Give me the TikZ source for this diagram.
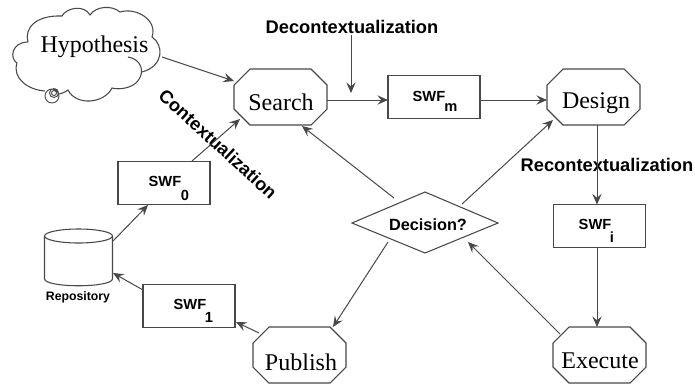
\documentclass[tikz,border=0pt]{standalone}
\usepackage{fontspec}
\setmainfont{Liberation Serif}
\newfontfamily\lsans{Liberation Sans}
\usetikzlibrary{arrows.meta,shapes.geometric}
\definecolor{ln}{HTML}{484848}
\tikzset{x=0.75pt,y=-0.75pt,
 arr/.style={draw=ln,-{Stealth[length=8pt,width=7pt,inset=3pt]},line width=0.75pt},
 big/.style={font=\fontsize{18}{20}\selectfont,text=black,inner sep=0pt},
 lab/.style={font=\lsans\bfseries\fontsize{13.7}{15}\selectfont,text=black,inner sep=0pt},
 swf/.style={draw=ln,line width=0.8pt,minimum width=69pt,minimum height=32.25pt,inner sep=0pt},
 sw/.style={font=\lsans\bfseries\fontsize{11}{12}\selectfont,text=black,inner sep=0pt},
 sub/.style={font=\lsans\bfseries\fontsize{11}{12}\selectfont,text=black,inner sep=0pt},
 shp/.style={draw=ln,line width=0.8pt}}
\newcommand{\octa}[5]{% name x1 y1 x2 y2
 \coordinate (#1) at ({(#2+#4)/2},{(#3+#5)/2});
 \path[shp,fill=white] (#2+16,#3)--(#4-16,#3)--(#4,#3+16)--(#4,#5-16)--(#4-16,#5)--(#2+16,#5)--(#2,#5-16)--(#2,#3+16)--cycle;}
\begin{document}
\begin{tikzpicture}
\useasboundingbox (0,0) rectangle (695,383);
% cloud
\path[shp] (28,42)
 .. controls (24,28) and (36,15) .. (62,16)
 .. controls (66,8) and (84,4) .. (90,15)
 .. controls (96,6) and (112,5) .. (120,12)
 .. controls (136,7) and (158,20) .. (152,37)
 .. controls (164,45) and (164,66) .. (142,72);
\path[shp] (128,57)
 .. controls (141,59) and (146,72) .. (137,82)
 .. controls (131,88) and (120,90) .. (112,88)
 .. controls (104,104) and (76,106) .. (68,90)
 .. controls (64,93) and (60,94) .. (58,94);
\path[shp] (45,91)
 .. controls (28,90) and (12,78) .. (17,63)
 .. controls (9,58) and (12,42) .. (28,42);
\node[big] (hyp) at (94.5,47) {Hypothesis};
\path[shp,line width=0.7pt] (52,96) circle (7) (54,93) circle (4.5) (54,93) circle (2.5);
\coordinate (hypout) at (162,57);
\octa{search}{234}{69}{327}{125}
\octa{design}{547}{69}{640}{125}
\octa{publish}{253}{327}{346}{383}
\octa{execute}{553}{327}{646}{383}
\node[big] (tsearch) at (281,102) {Search};
\node[big] (tdesign) at (596,103) {Design};
\node[big] (tpublish) at (301,362) {Publish};
\node[big] (texecute) at (600,361) {Execute};
\node[swf] (s0) at (164,183) {};
\node[swf] (sm) at (434,97) {};
\node[swf] (si) at (599.5,226) {};
\node[swf] (s1) at (189,306) {};
\node[sw] (s0a) at (165,181) {SWF};
\node[sub] (s0b) at (185,195) {0};
\node[sw] (sma) at (429,96) {SWF};
\node[sub] (smb) at (451,108) {m};
\node[sw] (sia) at (595,224) {SWF};
\node[sub] (sib) at (612,237) {i};
\node[sw] (s1a) at (190,304) {SWF};
\node[sub] (s1b) at (209,317) {1};
\path[shp] (425,192)--(498,223)--(425,253)--(352,223)--cycle;
\coordinate (dia) at (425,223);
\node[lab,font=\lsans\bfseries\fontsize{12.2}{14}\selectfont] (dec) at (428,225) {Decision?};
% cylinder
\path[shp] (44.5,236) -- (44.5,279) .. controls (46,288) and (111,288) .. (112.5,279) -- (112.5,236);
\path[shp] (78.5,236) ellipse (34 and 7);
\coordinate (cyl1) at (113,241);
\coordinate (cyl2) at (113,273);
\node[lab,font=\lsans\bfseries\fontsize{9.2}{11}\selectfont] (rep) at (78,297) {Repository};
\node[lab] (ldec) at (352,27) {Decontextualization};
\node[lab] (lrec) at (607,165) {Recontextualization};
\node[lab,rotate=-42.4] (lcon) at (218,144) {Contextualization};
% connectors
\coordinate (a1) at (351,93);
\coordinate (a2) at (351,35);
\coordinate (sr) at (327,100);
\coordinate (s0t) at (192,161);
\coordinate (s1l) at (143,290);
\coordinate (pl) at (259,333);
\coordinate (s1r) at (236,322);
\coordinate (dnw) at (394,198);
\coordinate (dne) at (462,204);
\coordinate (dsw) at (388,242);
\coordinate (dse) at (468,242);
\draw[arr] (hypout) -- (234,81);
\draw[arr] (s0t) -- (240,119);
\draw[arr] (cyl1) -- (148,205);
\draw[arr] (s1l) -- (cyl2);
\draw[arr] (pl) -- (s1r);
\draw[arr] (a2) -- (a1);
\draw[arr] (sr) -- (388,100);
\draw[arr] (480,100) -- (547,100);
\draw[arr] (dnw) -- (302,126);
\draw[arr] (dne) -- (553,120);
\draw[arr] (dsw) -- (333,327);
\draw[arr] (597,125) -- (597,204.5);
\draw[arr] (597,247.5) -- (597,327);
\draw[arr] (560,334) -- (dse);
\end{tikzpicture}
\end{document}
